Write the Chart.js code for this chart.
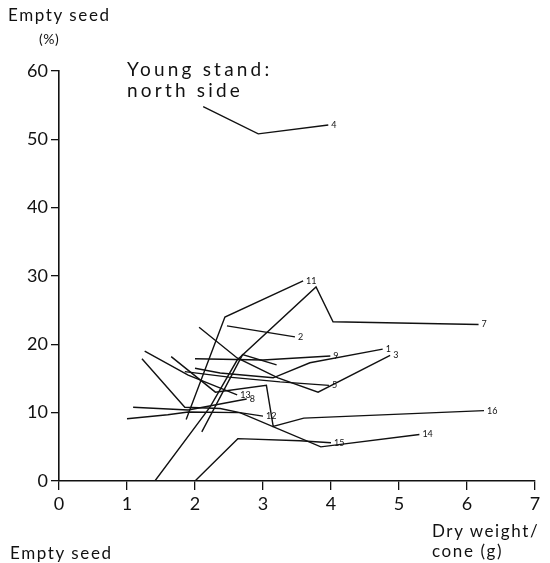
<!DOCTYPE html>
<html>
<head>
<meta charset="utf-8">
<script src="https://cdn.jsdelivr.net/npm/chart.js@4.4.0/dist/chart.umd.min.js"></script>
<style>
  body { margin: 0; background: #fff; }
  #wrap { position: relative; width: 550px; height: 563px; }
  .t { position: absolute; font-family: Lato, sans-serif; color: #111; font-size: 17px; letter-spacing: 1.6px; white-space: nowrap; }
</style>
</head>
<body>
<div id="wrap">
  <canvas id="myChart" width="550" height="563"></canvas>
  <div class="t" style="left:8px;top:4px;">Empty seed</div>
  <div class="t" style="left:39px;top:30px;font-size:14px;letter-spacing:0.5px;">(%)</div>
  <div class="t" style="left:127px;top:57px;font-size:19px;letter-spacing:3.2px;">Young stand:</div>
  <div class="t" style="left:127px;top:78px;font-size:19px;letter-spacing:3.2px;">north side</div>
  <div class="t" style="left:432px;top:520px;">Dry weight/</div>
  <div class="t" style="left:432px;top:540px;">cone (g)</div>
  <div class="t" style="left:10px;top:542px;">Empty seed</div>
</div>
<script>
// tick labels
const xTicks = [0, 1, 2, 3, 4, 5, 6, 7];
const yTicks = [0, 10, 20, 30, 40, 50, 60];

// one array per stand, [dry weight, empty seed %]
const s1 = [[2.0, 16.5], [2.37, 15.8], [3.15, 15.1], [3.69, 17.3], [4.76, 19.3]];
const s2 = [[2.47, 22.7], [3.47, 21.1]];
const s3 = [[2.06, 22.5], [2.62, 18.0], [3.22, 15.1], [3.81, 13.0], [4.87, 18.4]];
const s4 = [[2.12, 54.8], [2.93, 50.8], [3.96, 52.1]];
const s5 = [[1.85, 16.0], [2.5, 15.2], [3.25, 14.5], [3.97, 14.0]];
const s7 = [[0, 0], [1.41, 0], [2.22, 10.8], [2.62, 17.7], [3.78, 28.4], [4.03, 23.3], [6.17, 22.9]];
const s8 = [[1.09, 10.8], [1.9, 10.4], [2.76, 12.0]];
const s9 = [[2.0, 17.9], [3.0, 17.7], [3.99, 18.3]];
const s10 = [[2.1, 7.2], [2.7, 18.5], [3.2, 17.0]];
const s11 = [[1.87, 9.0], [2.44, 24.0], [3.59, 29.3]];
const s12 = [[1.0, 9.1], [1.6, 9.7], [1.9, 10.1], [2.66, 10.0], [3.0, 9.5]];
const s13 = [[1.26, 19.0], [1.9, 15.5], [2.62, 12.6]];
const s14 = [[1.22, 17.9], [1.85, 10.8], [2.37, 10.6], [2.66, 10.0], [3.85, 5.0], [5.3, 6.8]];
const s15 = [[2.0, 0], [2.63, 6.2], [3.54, 5.9], [4.0, 5.6]];
const s16 = [[1.65, 18.2], [2.3, 13.0], [3.05, 14.0], [3.15, 8.0], [3.6, 9.2], [6.25, 10.3]];

const stands = [
  ['1', s1], ['2', s2], ['3', s3], ['4', s4], ['5', s5], ['7', s7], ['8', s8],
  ['9', s9], ['', s10], ['11', s11], ['12', s12], ['13', s13], ['14', s14],
  ['15', s15], ['16', s16]
];

// little number at the end of each line
const endLabels = {
  id: 'endLabels',
  afterDatasetsDraw(chart) {
    const c = chart.ctx;
    c.save();
    c.font = '9px Lato, sans-serif';
    c.fillStyle = '#111';
    c.textBaseline = 'middle';
    chart.data.datasets.forEach((ds, i) => {
      if (!ds.label) return;
      const pts = chart.getDatasetMeta(i).data;
      const p = pts[pts.length - 1];
      c.fillText(ds.label, p.x + 3, p.y);
    });
    c.restore();
  }
};

const ctx = document.getElementById('myChart');

new Chart(ctx, {
  type: 'scatter',
  data: {
    datasets: stands.map(([name, pts]) => ({
      label: name,
      data: pts.map(p => ({ x: p[0], y: p[1] })),
      showLine: true,
      borderColor: '#111',
      borderWidth: 1.4,
      pointRadius: 0,
      tension: 0
    }))
  },
  options: {
    responsive: false,
    animation: false,
    layout: { padding: { left: 0, right: 15, top: 71, bottom: 0 } },
    plugins: { legend: { display: false }, tooltip: { enabled: false } },
    scales: {
      x: {
        type: 'linear',
        min: 0, max: 7,
        afterBuildTicks: s => { s.ticks = xTicks.map(v => ({ value: v })); },
        afterFit: s => { s.height = 82; },
        grid: { drawOnChartArea: false, drawTicks: true, tickLength: 9, color: '#111', lineWidth: 1.3 },
        border: { color: '#111', width: 1.6 },
        ticks: { color: '#111', font: { family: 'Lato', size: 18 }, padding: 3 }
      },
      y: {
        type: 'linear',
        min: 0, max: 60,
        afterBuildTicks: s => { s.ticks = yTicks.map(v => ({ value: v })); },
        afterFit: s => { s.width = 59; },
        grid: { drawOnChartArea: false, drawTicks: true, tickLength: 8, color: '#111', lineWidth: 1.3 },
        border: { color: '#111', width: 1.6 },
        ticks: { color: '#111', font: { family: 'Lato', size: 18 }, padding: 3 }
      }
    }
  },
  plugins: [endLabels]
});
</script>
</body>
</html>
